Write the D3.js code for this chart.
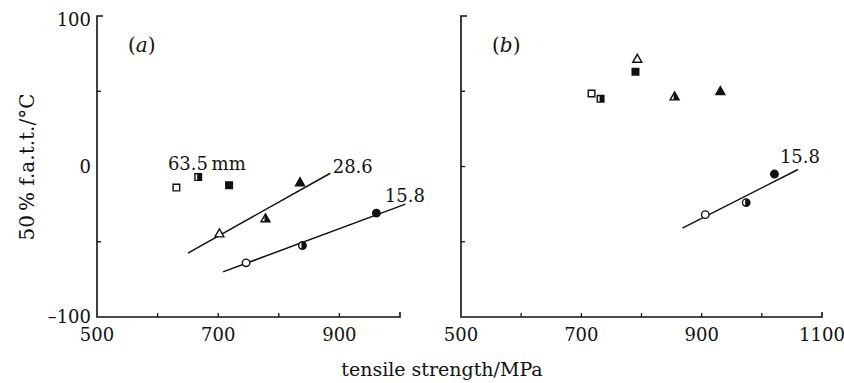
<!DOCTYPE html>
<html>
<head>
<meta charset="utf-8">
<script src="https://cdn.jsdelivr.net/npm/d3@7"></script>
<style>
  body { margin: 0; background: #fff; }
  svg text { font-family: "DejaVu Serif", "Liberation Serif", serif; fill: #111; }
</style>
</head>
<body>
<div id="chart"></div>
<script>
// panel (a): 50% FATT vs tensile strength, by section size (mm)
const panelAPoints = [
  { size: '63.5', shape: 'square', fill: 'open', x: 631, y: -14 },
  { size: '63.5', shape: 'square', fill: 'half', x: 667, y: -7 },
  { size: '63.5', shape: 'square', fill: 'full', x: 718, y: -12.5 },
  { size: '28.6', shape: 'triangle', fill: 'open', x: 702, y: -44.5 },
  { size: '28.6', shape: 'triangle', fill: 'half', x: 778, y: -34.5 },
  { size: '28.6', shape: 'triangle', fill: 'full', x: 835, y: -10.5 },
  { size: '15.8', shape: 'circle', fill: 'open', x: 746, y: -64 },
  { size: '15.8', shape: 'circle', fill: 'half', x: 839, y: -52.5 },
  { size: '15.8', shape: 'circle', fill: 'full', x: 961, y: -31 }
];
const panelALines = [
  { label: '28.6', x1: 650, y1: -57.5, x2: 885, y2: -4.5 },
  { label: '15.8', x1: 708, y1: -70, x2: 1009, y2: -25 }
];
const panelALabels = [
  { text: '63.5\u2009mm', x: 617, y: -2 },
  { text: '28.6', x: 889, y: -4.6 },
  { text: '15.8', x: 975, y: -23.5 }
];

// panel (b)
const panelBPoints = [
  { shape: 'square', fill: 'open', x: 717, y: 48.5 },
  { shape: 'square', fill: 'half', x: 732, y: 45 },
  { shape: 'square', fill: 'full', x: 790, y: 63 },
  { shape: 'triangle', fill: 'open', x: 793, y: 71.5 },
  { shape: 'triangle', fill: 'half', x: 855, y: 46.5 },
  { shape: 'triangle', fill: 'full', x: 931, y: 50 },
  { shape: 'circle', fill: 'open', x: 906, y: -32 },
  { shape: 'circle', fill: 'half', x: 974, y: -24 },
  { shape: 'circle', fill: 'full', x: 1021, y: -5 }
];
const panelBLines = [
  { label: '15.8', x1: 868, y1: -41, x2: 1060, y2: -2 }
];
const panelBLabels = [
  { text: '15.8', x: 1030, y: 2 }
];

const yTicks = [-100, -50, 0, 50, 100];
const yTickLabels = [-100, 0, 100];
const xTicksA = [500, 600, 700, 800, 900, 1000];
const xTickLabelsA = [500, 700, 900];
const xTicksB = [500, 600, 700, 800, 900, 1000, 1100];
const xTickLabelsB = [500, 700, 900, 1100];

const W = 844, H = 383;
const svg = d3.select('#chart').append('svg')
  .attr('width', W).attr('height', H);

const y = d3.scaleLinear().domain([-100, 100]).range([317, 16]);
const xA = d3.scaleLinear().domain([500, 1000]).range([97, 400]);
const xB = d3.scaleLinear().domain([500, 1100]).range([461, 822]);

const defs = svg.append('defs');
defs.append('clipPath').attr('id', 'rightHalf')
  .append('rect').attr('x', -1).attr('y', -10).attr('width', 12).attr('height', 20);

function drawFrame(x, xTicks, xLabels, showYLabels) {
  const g = svg.append('g');
  const [x0, x1] = x.range();
  const [yb, yt] = y.range();
  // axes
  g.append('path')
    .attr('d', `M${x0 + 6},${yt}H${x0}V${yb}H${x1}V${yb - 5}`)
    .attr('fill', 'none').attr('stroke', '#111').attr('stroke-width', 1.6);
  // inward ticks
  g.selectAll('.xt').data(xTicks.slice(1, -1)).enter().append('line')
    .attr('x1', d => x(d)).attr('x2', d => x(d))
    .attr('y1', yb).attr('y2', yb - 4)
    .attr('stroke', '#111').attr('stroke-width', 1.3);
  g.selectAll('.yt').data(yTicks.slice(1, -1).filter(d => !(showYLabels && d === 0))).enter().append('line')
    .attr('x1', x0).attr('x2', x0 + 4)
    .attr('y1', d => y(d)).attr('y2', d => y(d))
    .attr('stroke', '#111').attr('stroke-width', 1.3);
  g.selectAll('.xl').data(xLabels).enter().append('text')
    .attr('x', d => x(d)).attr('y', 341)
    .attr('text-anchor', 'middle')
    .attr('font-size', 18)
    .text(d => d);
  if (showYLabels) {
    g.selectAll('.yl').data(yTickLabels).enter().append('text')
      .attr('x', x0 - 6).attr('y', d => y(d) + (d === 100 ? 10 : 6))
      .attr('text-anchor', 'end')
      .attr('font-size', 18)
      .text(d => d < 0 ? '\u2013' + Math.abs(d) : d);
  }
  return g;
}

function marker(g, p, x) {
  const cx = x(p.x), cy = y(p.y);
  const m = g.append('g').attr('transform', `translate(${cx},${cy})`);
  let d;
  if (p.shape === 'square') d = 'M-3.3,-3.3H3.3V3.3H-3.3Z';
  else if (p.shape === 'triangle') d = 'M0,-4.6L4.5,3.4H-4.5Z';
  else d = d3.symbol(d3.symbolCircle, 44)();
  m.append('path').attr('d', d)
    .attr('fill', p.fill === 'full' ? '#111' : '#fff')
    .attr('stroke', '#111').attr('stroke-width', 1.4);
  if (p.fill === 'half') {
    m.append('path').attr('d', d).attr('fill', '#111')
      .attr('clip-path', 'url(#rightHalf)');
  }
}

function drawPanel(x, xTicks, xLabels, showYLabels, points, lines, labels, tag) {
  const g = drawFrame(x, xTicks, xLabels, showYLabels);
  g.selectAll('.fit').data(lines).enter().append('line')
    .attr('x1', d => x(d.x1)).attr('y1', d => y(d.y1))
    .attr('x2', d => x(d.x2)).attr('y2', d => y(d.y2))
    .attr('stroke', '#111').attr('stroke-width', 1.5);
  points.forEach(p => marker(g, p, x));
  g.selectAll('.lab').data(labels).enter().append('text')
    .attr('x', d => x(d.x)).attr('y', d => y(d.y))
    .attr('font-size', 18)
    .text(d => d.text);
  const t = g.append('text')
    .attr('x', x.range()[0] + 31).attr('y', 52)
    .attr('font-size', 20);
  t.append('tspan').text('(');
  t.append('tspan').attr('font-style', 'italic').text(tag);
  t.append('tspan').text(')');
}

drawPanel(xA, xTicksA, xTickLabelsA, true, panelAPoints, panelALines, panelALabels, 'a');
drawPanel(xB, xTicksB, xTickLabelsB, false, panelBPoints, panelBLines, panelBLabels, 'b');

svg.append('text')
  .attr('transform', 'translate(34,167) rotate(-90)')
  .attr('text-anchor', 'middle')
  .attr('font-size', 20)
  .text('50\u2009% f.a.t.t./\u00b0C');

svg.append('text')
  .attr('x', 442).attr('y', 376)
  .attr('text-anchor', 'middle')
  .attr('font-size', 19)
  .text('tensile strength/MPa');
</script>
</body>
</html>
